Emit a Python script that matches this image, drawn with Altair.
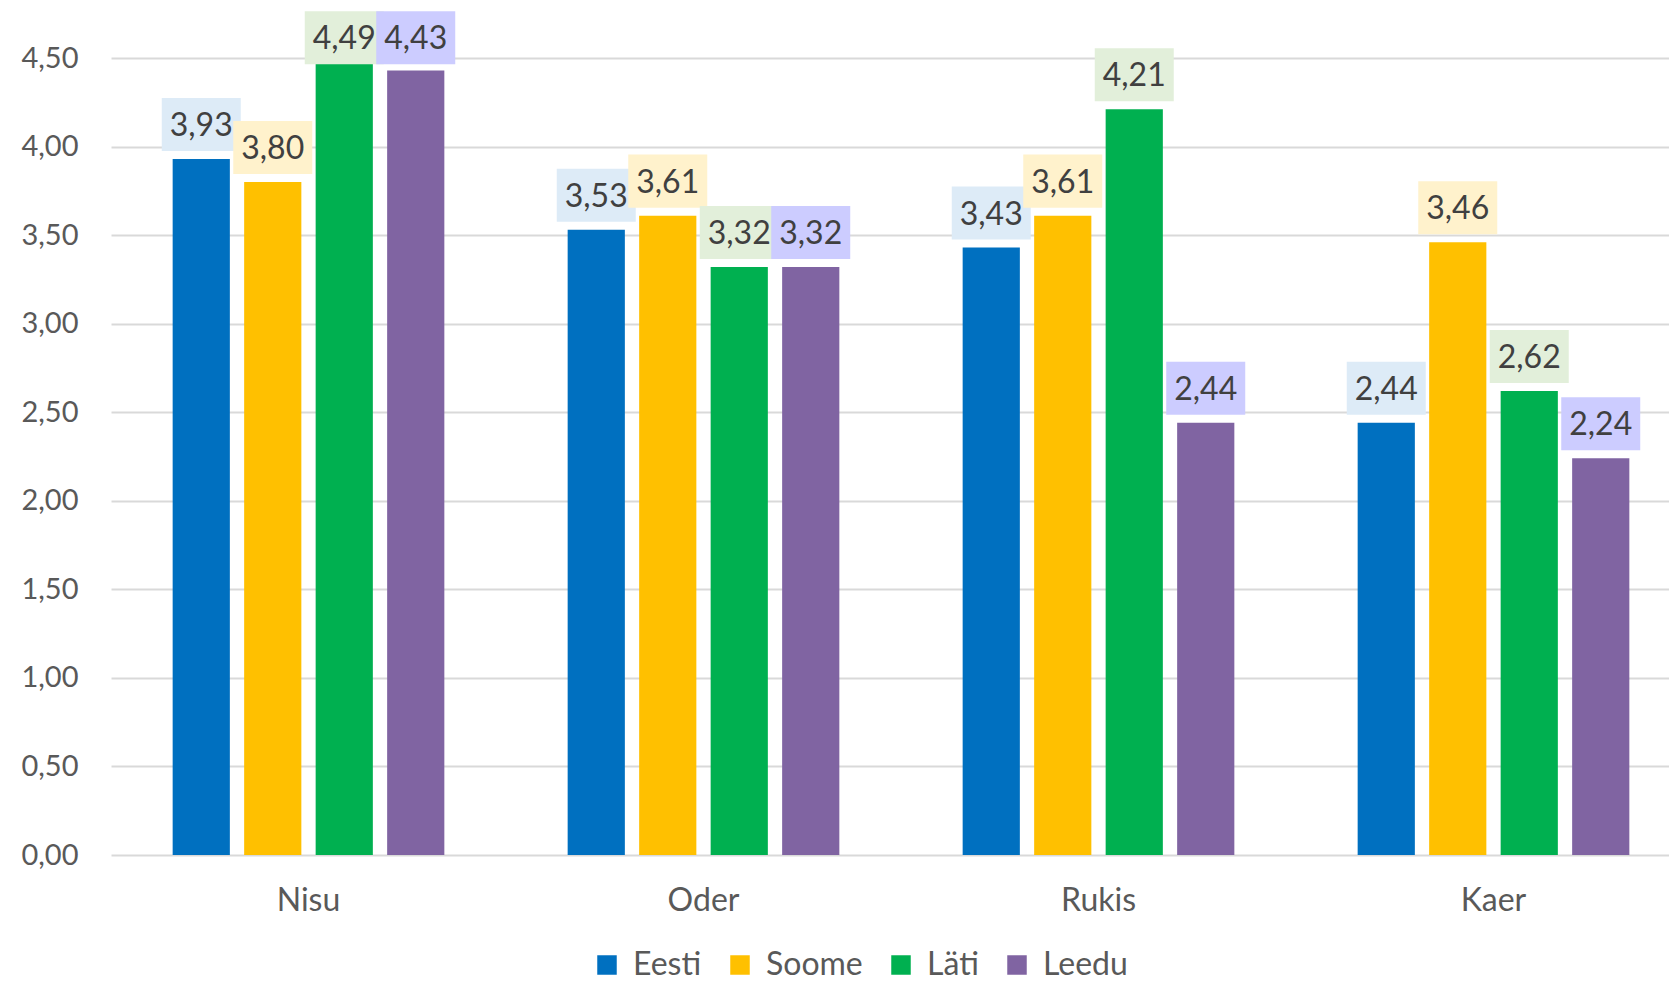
import altair as alt
import pandas as pd

categories = ["Nisu", "Oder", "Rukis", "Kaer"]
series = ["Eesti", "Soome", "Läti", "Leedu"]
values = {
    "Eesti": [3.93, 3.53, 3.43, 2.44],
    "Soome": [3.80, 3.61, 3.61, 3.46],
    "Läti":  [4.49, 3.32, 4.21, 2.62],
    "Leedu": [4.43, 3.32, 2.44, 2.24],
}
bar_colors = ["#0070C0", "#FFC000", "#00B050", "#8064A2"]
box_colors = ["#DDEBF7", "#FFF2CC", "#E2EFDA", "#CCCCFF"]

rows = []
for s in series:
    for c, v in zip(categories, values[s]):
        rows.append({"cat": c, "series": s, "value": v})
df = pd.DataFrame(rows)

FONT = "Lato"

x_enc = alt.X("cat:N", sort=categories, title=None,
              scale=alt.Scale(range=[0, 1580], paddingInner=0.276, paddingOuter=0.138),
              axis=alt.Axis(labelFontSize=32, labelColor="#595959", labelFont=FONT,
                            ticks=False, domain=False, labelPadding=30, labelAngle=0))
xo_enc = alt.XOffset("series:N", sort=series,
                     scale=alt.Scale(paddingInner=0.2, paddingOuter=0.1))
y_scale = alt.Scale(domain=[0, 4.5])

base = alt.Chart(df)

bars = base.mark_bar().encode(
    x=x_enc,
    xOffset=xo_enc,
    y=alt.Y("value:Q", scale=y_scale, title=None,
            axis=alt.Axis(values=[0, 0.5, 1, 1.5, 2, 2.5, 3, 3.5, 4, 4.5],
                          labelExpr="replace(format(datum.value, '.2f'), '.', ',')",
                          labelFontSize=29, labelColor="#595959", labelFont=FONT,
                          ticks=False, domain=False, labelPadding=33,
                          gridColor="#D9D9D9", gridWidth=2)),
    color=alt.Color("series:N", sort=series,
                    scale=alt.Scale(domain=series, range=bar_colors),
                    legend=alt.Legend(title=None, orient="none", direction="horizontal",
                                      legendX=480, legendY=891,
                                      symbolType="square", symbolSize=380,
                                      symbolStrokeWidth=0,
                                      labelFontSize=32, labelFont=FONT, labelColor="#595959",
                                      labelOffset=10, columnPadding=22)),
)

label_base = base.transform_calculate(
    ly="min(datum.value, 4.42)",
    txt="replace(format(datum.value, '.2f'), '.', ',')",
)

boxes = label_base.mark_point(
    shape="M-1,-0.671L1,-0.671L1,0.671L-1,0.671Z",
    size=6241, filled=True, opacity=1, yOffset=-34.5,
).encode(
    x=alt.X("cat:N", sort=categories),
    xOffset=alt.XOffset("series:N", sort=series),
    y=alt.Y("ly:Q", scale=y_scale),
    fill=alt.Fill("series:N", sort=series,
                  scale=alt.Scale(domain=series, range=box_colors), legend=None),
)

texts = label_base.mark_text(
    fontSize=32, font=FONT, color="#404040", baseline="middle", align="center",
    yOffset=-33,
).encode(
    x=alt.X("cat:N", sort=categories),
    xOffset=alt.XOffset("series:N", sort=series),
    y=alt.Y("ly:Q", scale=y_scale),
    text="txt:N",
)

chart = alt.layer(bars, boxes, texts).properties(
    width=1558, height=797,
    autosize=alt.AutoSizeParams(type="none"),
    padding={"left": 103, "top": 50, "right": 0, "bottom": 126},
).configure_view(stroke=None)

chart.save("out.html", embed_options={"renderer": "svg", "actions": False})
